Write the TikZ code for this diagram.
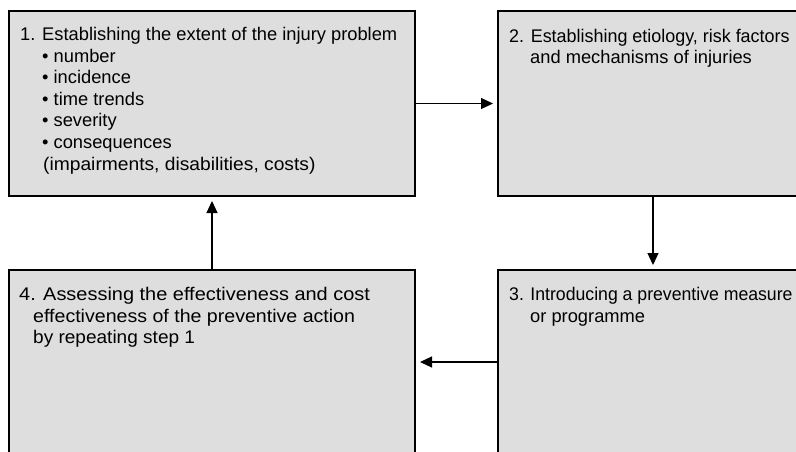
\documentclass[tikz,border=0pt]{standalone}
\usepackage{fontspec}
\setmainfont{Liberation Sans}
\usetikzlibrary{arrows.meta}
\definecolor{boxfill}{HTML}{DEDEDE}
\tikzset{
  box/.style={draw=black, line width=1.3pt, fill=boxfill, anchor=north west, inner sep=0pt, outer sep=0pt},
  txt/.style={anchor=base west, inner sep=0pt, font=\fontsize{18.3}{21}\selectfont},
  conn/.style={line width=1.2pt, -{Triangle[length=12pt,width=11pt]}, shorten >=5pt}
}
\begin{document}
\begin{tikzpicture}[x=1pt,y=-1pt]
\useasboundingbox (0,0) rectangle (796,451);
\clip (0,0) rectangle (796,451);
\node[box, minimum width=406pt, minimum height=185pt] (b1) at (9,11) {};
\node[box, minimum width=310pt, minimum height=185pt] (b2) at (498,11) {};
\node[box, minimum width=310pt, minimum height=184pt] (b3) at (498,270) {};
\node[box, minimum width=406pt, minimum height=184pt] (b4) at (9,270) {};
% box 1 text
\node[txt] (t11) at (20,40.5) {1. Establishing the extent of the injury problem};
\node[txt] (t12) at (42,62.1) {• number};
\node[txt] (t13) at (42,83.7) {• incidence};
\node[txt] (t14) at (42,105.3) {• time trends};
\node[txt] (t15) at (42,126.9) {• severity};
\node[txt] (t16) at (42,148.5) {• consequences};
\node[txt] (t17) at (43,170.1) {\scalebox{1.05}[1]{(impairments, disabilities, costs)}};
% box 2 text
\node[txt] (t21) at (509,42) {\scalebox{0.98}[1]{2. Establishing etiology, risk factors}};
\node[txt] (t22) at (530,63.6) {and mechanisms of injuries};
% box 3 text
\node[txt] (t31) at (509,300.5) {\scalebox{0.965}[1]{3. Introducing a preventive measure}};
\node[txt] (t32) at (530,322.1) {or programme};
% box 4 text
\node[txt] (t41) at (19,300.5) {\scalebox{1.09}[1]{4. Assessing the effectiveness and cost}};
\node[txt] (t42) at (33,322.1) {\scalebox{1.07}[1]{effectiveness of the preventive action}};
\node[txt] (t43) at (33,343.7) {\scalebox{1.04}[1]{by repeating step 1}};
% connectors
\draw[conn] (b1.east) -- (b2.west);
\draw[conn] (b2.south) -- (b3.north);
\draw[conn] (b3.west) -- (b4.east);
\draw[conn] (b4.north) -- (b1.south);
\end{tikzpicture}
\end{document}
